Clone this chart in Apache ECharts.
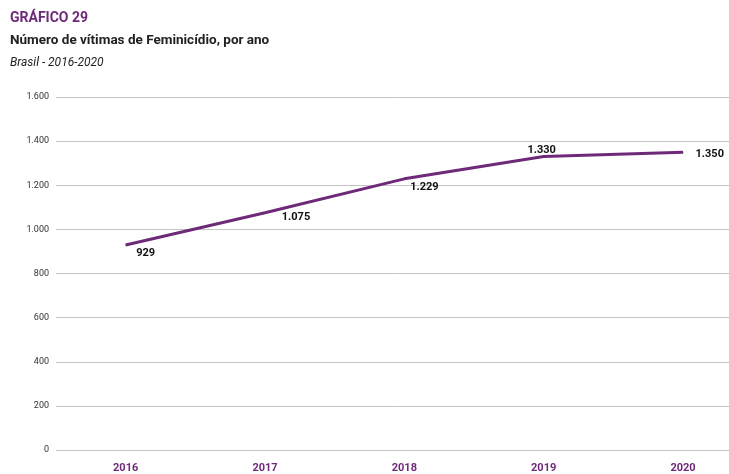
<!DOCTYPE html>
<html>
<head>
<meta charset="utf-8">
<script src="https://cdn.jsdelivr.net/npm/echarts@6/dist/echarts.min.js"></script>
<style>
html, body { margin: 0; padding: 0; background: #fff; }
#main { width: 729px; height: 474px; }
</style>
</head>
<body>
<div id="main"></div>
<script>
var years = [2016, 2017, 2018, 2019, 2020];
var victims = [929, 1075, 1229, 1330, 1350];
// where each value label sits relative to its point
var labelOffsets = [[20, -3], [31, -7], [20, -3], [-2, 5], [7, 2]];
var labelPositions = ['bottom', 'bottom', 'bottom', 'top', 'right'];

var purple = '#6e2a78';

function fmt(v) {
    return String(v).replace(/\B(?=(\d{3})+(?!\d))/g, '.');
}

var seriesData = years.map(function (y, i) {
    return {
        value: [y, victims[i]],
        label: { position: labelPositions[i], offset: labelOffsets[i] }
    };
});

var chart = echarts.init(document.getElementById('main'));
chart.setOption({
    animation: false,
    textStyle: { fontFamily: 'Roboto' },
    title: [
        { text: 'GRÁFICO 29', left: 10, top: 11, padding: 0, textStyle: { color: purple, fontSize: 14, fontWeight: 'bold', fontFamily: 'Roboto' } },
        { text: 'Número de vítimas de Feminicídio, por ano', left: 10, top: 34, padding: 0, textStyle: { color: '#222', fontSize: 13.5, fontWeight: 'bold', fontFamily: 'Roboto' } },
        { text: 'Brasil - 2016-2020', left: 10, top: 57, padding: 0, textStyle: { color: '#222', fontSize: 12, fontStyle: 'italic', fontWeight: 'normal', fontFamily: 'Roboto' } }
    ],
    grid: { left: 56, right: 0, top: 97, bottom: 23 },
    xAxis: {
        type: 'value',
        min: 2015.5,
        max: 2020.33,
        axisLine: { show: false },
        axisTick: { show: false },
        splitLine: { show: false },
        axisLabel: {
            customValues: years,
            color: purple,
            fontWeight: 'bold',
            fontSize: 11,
            margin: 13,
            formatter: function (v) { return String(v); }
        }
    },
    yAxis: {
        type: 'value',
        min: 0,
        max: 1600,
        interval: 200,
        axisLine: { show: false },
        axisTick: { show: false },
        splitLine: { lineStyle: { color: '#c4c4c4', width: 1 } },
        axisLabel: { color: '#333', fontSize: 9, margin: 7, formatter: fmt }
    },
    series: [{
        type: 'line',
        data: seriesData,
        symbol: 'circle',
        symbolSize: 1,
        showSymbol: true,
        itemStyle: { color: purple },
        lineStyle: { color: purple, width: 3 },
        label: {
            show: true,
            color: '#111',
            fontWeight: 'bold',
            fontSize: 11,
            formatter: function (p) { return fmt(p.value[1]); }
        }
    }]
});
</script>
</body>
</html>
